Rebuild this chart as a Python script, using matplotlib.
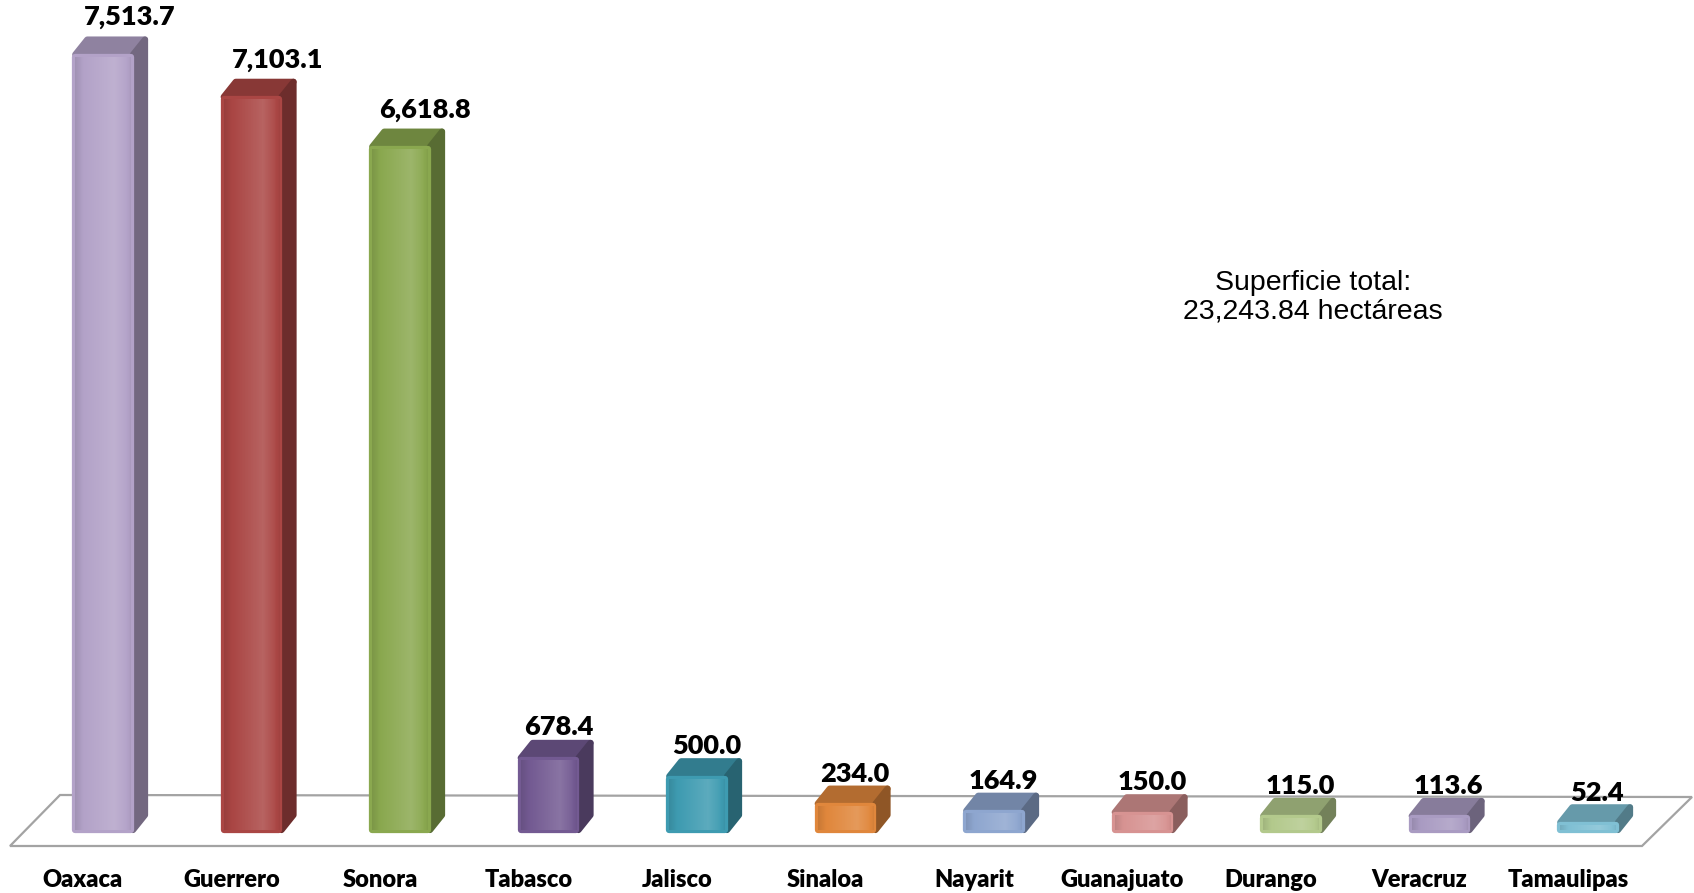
import numpy as np
import matplotlib
matplotlib.use("Agg")
import matplotlib.pyplot as plt
from matplotlib.patches import Polygon
from matplotlib.colors import to_rgb
from matplotlib.transforms import IdentityTransform, ScaledTranslation, blended_transform_factory

# superficie por estado (hectáreas)
estados = ["Oaxaca", "Guerrero", "Sonora", "Tabasco", "Jalisco", "Sinaloa",
           "Nayarit", "Guanajuato", "Durango", "Veracruz", "Tamaulipas"]
superficie = [7513.7, 7103.1, 6618.8, 678.4, 500.0, 234.0,
              164.9, 150.0, 115.0, 113.6, 52.4]
colores = ["#b3a2c8", "#aa4644", "#8aa84f", "#735a92", "#3e9bb1", "#e0873c",
           "#8ea6cf", "#d79392", "#b3c98c", "#a99bc2", "#80c0d4"]
nota_total = "Superficie total:\n23,243.84 hectáreas"

W, H = 1694, 893
fig = plt.figure(figsize=(W / 100, H / 100), dpi=100)
ax = fig.add_axes([0, 63 / H, 1, 830 / H])
ax.set_xlim(-103 / 148.5, (W - 103) / 148.5)
ax.set_ylim(0, 830 / 0.1029)
ax.axis("off")

# piso en perspectiva
piso = Polygon([(60 / W, 1 - 795 / H), (1692 / W, 1 - 797 / H),
                (1642 / W, 1 - 846 / H), (10 / W, 1 - 846 / H)],
               closed=True, transform=fig.transFigure, facecolor="white",
               edgecolor="#a3a3a3", lw=1.6, zorder=0, clip_on=False)
ax.add_patch(piso)

x = np.arange(len(estados))
lw = 4.5
bars = ax.bar(x, superficie, width=0.404 - lw / 148.5, color=colores, zorder=3)

# degradado horizontal para la cara frontal
u = np.linspace(0, 1, 64)
g = np.interp(u, [0, 0.15, 0.7, 0.9, 1], [-0.10, 0.0, 0.16, 0.05, -0.05])
grad = np.zeros((1, u.size, 4))
grad[0, :, :3] = (g > 0)[:, None] * 1.0
grad[0, :, 3] = np.abs(g)

# caras de profundidad (lado y tapa) en pixeles
dx, dy = 12, 15
for rect, c in zip(bars, colores):
    rgb = np.array(to_rgb(c))
    x0, y0 = ax.transData.transform((rect.get_x(), 0))
    x1, y1 = ax.transData.transform((rect.get_x() + rect.get_width(), rect.get_height()))
    x1 += lw / 2
    y1 += lw / 2
    tapa = [(x0, y1), (x1, y1), (x1 + dx, y1 + dy), (x0 + dx, y1 + dy)]
    lado = [(x1, y0), (x1 + dx, y0 + dy), (x1 + dx, y1 + dy), (x1, y1)]
    for pts, f in ((tapa, 0.8), (lado, 0.64)):
        ax.add_patch(Polygon(pts, closed=True, transform=IdentityTransform(),
                             fc=rgb * f, ec=rgb * f, lw=lw, joinstyle="round",
                             zorder=2, clip_on=False))
    rect.set_edgecolor(c)
    rect.set_linewidth(lw)
    rect.set_joinstyle("round")
    rect.set_clip_on(False)
    im = ax.imshow(grad, extent=(rect.get_x(), rect.get_x() + rect.get_width(),
                                 0, rect.get_height()),
                   aspect="auto", interpolation="bilinear", zorder=4)
    im.set_clip_path(rect)
ax.set_xlim(-103 / 148.5, (W - 103) / 148.5)
ax.set_ylim(0, 830 / 0.1029)

# etiquetas de valores
vmax = max(superficie)
for xi, v in zip(x, superficie):
    f = v / vmax
    off = ScaledTranslation((9 + 18 * f) / 100, (dy + 9 + 8 * f) / 100, fig.dpi_scale_trans)
    ax.text(xi, v, f"{v:,.1f}", transform=ax.transData + off, ha="center",
            va="baseline", fontsize=19.5, fontweight="heavy", family="Lato", zorder=5)

# nombres de estados
trans = blended_transform_factory(
    ax.transData + ScaledTranslation(-0.20, 0, fig.dpi_scale_trans), fig.transFigure)
for xi, nombre in zip(x, estados):
    ax.text(xi, 6 / H, nombre, transform=trans, ha="center", va="baseline",
            fontsize=17, fontweight="heavy", family="Lato", clip_on=False)

fig.text(1313 / W, 1 - 297 / H, nota_total, ha="center", va="center",
         fontsize=20.5, family="Liberation Sans", linespacing=1.15)

fig.savefig("out.png", dpi=100)
